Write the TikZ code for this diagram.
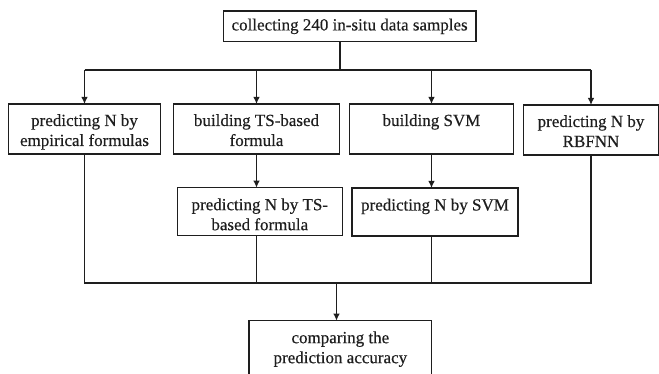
\documentclass[tikz,border=0pt]{standalone}
\usepackage{fontspec}
\setmainfont{Liberation Serif}[FakeBold=0.4]
\usetikzlibrary{arrows.meta,calc}
\definecolor{ink}{RGB}{30,30,30}
\begin{document}
\begin{tikzpicture}[x=1pt,y=-1pt,
  box/.style={draw=ink, line width=1.2pt, rectangle, inner sep=0pt, outer sep=0pt},
  txt/.style={font=\fontsize{17}{20}\selectfont, text=ink, align=center, inner sep=0pt, anchor=north},
  conn/.style={draw=ink, line width=1.2pt},
  arr/.style={conn, -{Latex[length=7pt,width=6.5pt]}}]
\useasboundingbox (0,0) rectangle (659,374);
\clip (0,0) rectangle (659,374);
% boxes
\node[box, minimum width=252.7pt, minimum height=30.7pt, font=\fontsize{17}{20}\selectfont, text=ink] (top) at (349.6,26.35) {collecting 240 in-situ data samples};
\node[box, minimum width=152pt, minimum height=50pt] (b1) at (84.5,129) {};
\node[box, minimum width=166pt, minimum height=50pt] (b2) at (256.5,129) {};
\node[box, minimum width=164.5pt, minimum height=50pt] (b3) at (431.5,129) {};
\node[box, minimum width=135pt, minimum height=50pt] (b4) at (591,130) {};
\node[box, minimum width=165pt, minimum height=48pt] (r2) at (259.8,211.7) {};
\node[box, minimum width=166pt, minimum height=48pt] (r3) at (435,212) {};
\node[box, minimum width=182.7pt, minimum height=56pt] (bot) at (340.35,348.7) {};
% texts
\node[txt] (t1) at ([yshift=-10pt]b1.north) {predicting N by\\empirical formulas};
\node[txt] (t2) at ([yshift=-10pt]b2.north) {building TS-based\\formula};
\node[txt] (t3) at ([yshift=-10pt]b3.north) {building SVM};
\node[txt] (t4) at ([yshift=-10pt]b4.north) {predicting N by\\RBFNN};
\node[txt] (t5) at ([yshift=-10.5pt]r2.north) {predicting N by TS-\\based formula};
\node[txt] (t6) at ([yshift=-10.5pt]r3.north) {predicting N by SVM};
\node[txt] (t7) at ([yshift=-10.5pt]bot.north) {comparing the\\prediction accuracy};
% connectors
\coordinate (j1) at (340,70);
\coordinate (j2) at (336.5,283);
\draw[conn] (top.south -| j1) -- (j1);
\draw[conn] (b1.north |- j1) -- (b4.north |- j1);
\draw[arr] (b1.north |- j1) -- (b1.north);
\draw[arr] (b2.north |- j1) -- (b2.north);
\draw[arr] (b3.north |- j1) -- (b3.north);
\draw[arr] (b4.north |- j1) -- (b4.north);
\draw[arr] (b2.south) -- (b2.south |- r2.north);
\draw[arr] (b3.south) -- (b3.south |- r3.north);
\draw[conn] (b1.south) -- (b1.south |- j2) -- (b4.south |- j2) -- (b4.south);
\draw[conn] (r2.south -| b2.south) -- (b2.south |- j2);
\draw[conn] (r3.south -| b3.south) -- (b3.south |- j2);
\draw[arr] (j2) -- (j2 |- bot.north);
\end{tikzpicture}
\end{document}
